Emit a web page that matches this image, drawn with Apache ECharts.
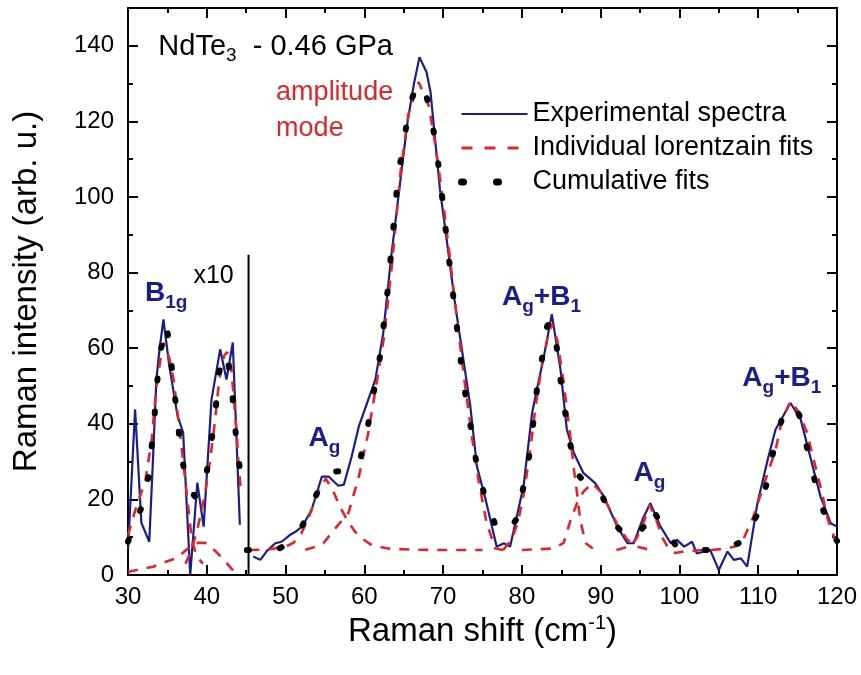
<!DOCTYPE html>
<html>
<head>
<meta charset="utf-8">
<script src="https://cdn.jsdelivr.net/npm/echarts@6/dist/echarts.min.js"></script>
<style>html,body{margin:0;padding:0;background:#fff}#c{width:861px;height:675px}</style>
</head>
<body>
<div id="c"></div>
<script>
// ---------- data ----------
const xTicks = [30, 40, 50, 60, 70, 80, 90, 100, 110, 120];
const yTicks = [0, 20, 40, 60, 80, 100, 120, 140];

// x10 region (left part)
const expLow = [[30.0,6.6],[30.9,43.8],[31.7,13.8],[32.7,8.8],[33.2,32],[33.6,51.7],[34.0,59.7],[34.5,67.6],[35.2,56],[35.9,47],[36.3,42],[37.0,37.7],[37.9,0],[38.8,24.4],[39.6,12.8],[40.6,46.4],[41.7,59.7],[42.5,51.7],[43.3,61.5],[44.2,13.3]];
const fitB1g = [[30.0,10.5],[30.9,17],[32.2,25],[33.0,35.7],[33.6,49.8],[34.3,59.5],[34.6,61.5],[35.3,56.9],[35.8,51.6],[36.2,44.5],[36.8,34],[37.45,21.6],[38.1,9.3],[38.7,5],[39.5,3]];
const fitLow2 = [[37.3,3],[38.1,7],[38.8,12],[39.8,21.7],[40.4,30],[41.0,40],[41.6,52],[42.2,58],[42.6,59],[43.1,55],[43.5,45],[43.8,37.6],[44.0,30],[44.3,23]];
const fitHump = [[30.0,0.8],[31.5,1.5],[33.2,2.2],[34.8,3.5],[36.2,4.5],[37.6,7],[38.6,8.5],[39.8,8.5],[41.0,6.5],[42.2,4],[43.2,1.5],[43.8,0.3]];
const cumLow = [[30.0,8.8],[30.8,13],[31.7,17.8],[32.6,26],[33.0,34],[33.4,43],[33.7,51],[34.2,60],[34.9,66.3],[35.4,58],[35.8,50],[36.3,41],[36.7,32.7],[37.5,23.6],[38.6,20.5],[39.8,24.4],[40.4,33],[41.0,41],[41.4,50],[41.8,58],[42.6,58],[43.2,49],[43.5,40.7],[44.0,31.8],[44.4,24]];

// main region
const expMain = [[45.9,4.9],[46.8,4],[47.7,6.5],[48.7,8.4],[49.5,8.8],[50.5,10.5],[51.3,11.5],[52.1,12.8],[53.3,17.2],[54.6,26],[55.5,26],[56.7,23.6],[57.4,23.9],[58.4,31.4],[59.3,39.3],[60.5,46.4],[61.4,51.7],[62.4,64],[63.4,84],[64.6,104.8],[65.5,120],[66.3,130],[67.0,137],[67.9,133],[68.4,127.8],[69.6,102],[70.5,88],[71.5,72],[72.5,58],[73.45,44.7],[74.3,28.7],[75.4,19.9],[76.8,7.5],[77.7,8.4],[78.5,7.5],[80.2,23.4],[81.3,42.9],[81.9,49],[82.8,57.9],[83.8,69],[84.9,54.4],[85.7,38.5],[86.6,32.3],[87.8,27],[89.3,24.3],[90.4,20.8],[92.1,12.8],[93.4,8.4],[94.2,8.4],[95.3,14.6],[96.3,19],[97.6,12.8],[98.9,8.4],[99.7,9.3],[100.6,7.5],[101.6,8.8],[102.2,5.7],[103.9,6.6],[105.0,1.3],[106.1,6.2],[106.9,4],[107.8,4.4],[108.6,2.2],[109.9,19],[111.2,30.5],[112.2,38.5],[114.1,45.5],[115.4,41.1],[116.7,30.5],[117.9,20.8],[119.2,13.7],[120.0,12.8]];
const fitAg55 = [[45.4,6.6],[48,6.8],[50,7.5],[51,8.5],[52,11],[53,15.5],[54,21.5],[55.1,25.5],[56,22.5],[56.8,18.5],[57.8,14.6],[58.8,11.5],[59.8,9.5],[61,7.8],[63,7],[66,6.7],[70,6.6],[75,6.6]];
const fitMain = [[52.5,6.7],[53.5,7.3],[54.8,8.4],[56.5,12.8],[58,16.5],[59.3,26],[60.5,37.6],[61.5,50],[62.5,63],[63.5,82],[64.6,106.6],[65.6,122],[66.9,130.4],[68.2,124],[69,114],[69.8,102],[70.8,85],[71.8,67],[72.8,50],[73.7,36],[74.5,25],[75.5,14],[76.6,7],[77.6,6.6]];
const fitAB84 = [[77.6,6.6],[78.7,9.3],[79.5,14],[80.2,21],[81,32],[81.7,44],[82.5,55],[83.3,63],[83.8,66.5],[84.5,62],[85.3,51],[86.2,35.8],[86.6,28],[87,21.7],[87.4,14.6],[88.1,8.4],[89,7]];
const fitSh89 = [[80,6.6],[84,7],[85.3,8.5],[86.2,14.6],[87,19],[87.8,22],[88.9,24.3],[90,22],[91.2,17.2],[92.3,12.5],[93.4,9.3],[94.6,7.5],[96,6.8]];
const fitAg96 = [[92,6.6],[93.5,7.5],[94.5,9.5],[95.3,13],[96.2,18.5],[97,15],[97.8,10],[98.6,7],[99.5,5.8],[101,6.4],[104,6.6]];
const fitAB114 = [[104,6.6],[106,7],[107.8,8],[109.4,15.5],[111.2,27],[112.2,33],[113,41],[114.1,46],[115.2,43],[116.2,37.6],[117.1,30],[117.9,23.4],[118.8,15],[119.6,10.2],[120,9]];
const cumMain = [[45.1,6.6],[47,6.7],[49.3,7.1],[50.8,9],[52.2,13.3],[53.9,21.2],[55,26],[56.3,27.4],[57.8,27.5],[59.3,29.2],[60.3,37.6],[61,46],[62,58],[63,76],[64.3,106],[65.1,115.4],[65.6,123.3],[66.7,130],[67.6,128.5],[68.4,122.9],[69,114.5],[69.6,105.5],[70.5,88],[71.5,70],[72.5,52],[73.7,36.7],[74.3,28.7],[75.4,19.9],[76.8,12.4],[78,11],[79.4,15],[80.2,23.4],[81,32.3],[81.5,41.1],[81.9,49],[82.6,57.9],[83.2,65.9],[83.8,67],[84.4,60.6],[84.9,51.7],[85.5,42.9],[86.2,34],[87,27],[88.3,23.4],[90.2,20.8],[92.1,12.8],[93.2,10],[94.2,9.7],[95.5,12.8],[96.5,18],[98,12],[99.5,8],[101,6.6],[105,6.6],[108,8.8],[110.1,16.8],[111.2,25.2],[112,33.6],[113.1,42],[114.1,45],[115.2,42.4],[116.2,33.6],[117.1,25.6],[118.3,16.8],[119.6,10.2],[120,9]];

// x10 separator
const dividerX = 45.3;
const dividerTop = 84.7;

const legendNames = ['Experimental spectra', 'Individual lorentzain fits', 'Cumulative fits'];

// ---------- styling ----------
const FONT = "'Liberation Sans', Arial, sans-serif";
const NAVY = '#1a1d8c';
const RED = '#e3242b';
const BLACK = '#000';

const chart = echarts.init(document.getElementById('c'), null, {renderer: 'canvas'});

const blueStyle = {color: NAVY, width: 2.2, type: 'solid'};
const redStyle = {color: RED, width: 2.6, type: [10, 9]};
const dotStyle = {color: BLACK, width: 6, type: [2, 31], cap: 'round'};

function ln(name, data, style, z) {
  return {type: 'line', name: name, data: data, symbol: 'none', showSymbol: false,
    lineStyle: style, itemStyle: {color: style.color}, z: z, silent: true, animation: false,
    emphasis: {disabled: true}, xAxisIndex: 0, yAxisIndex: 0};
}

const axisLineStyle = {color: BLACK, width: 2};
function xAx(pos, labels) {
  return {type: 'value', position: pos, min: xTicks[0], max: xTicks[xTicks.length - 1], interval: 10,
    axisLine: {show: true, onZero: false, lineStyle: axisLineStyle},
    axisTick: {show: true, inside: true, length: 10, lineStyle: {color: BLACK, width: 2}},
    minorTick: {show: true, splitNumber: 2, length: 5, lineStyle: {color: BLACK, width: 2}},
    splitLine: {show: false}, minorSplitLine: {show: false},
    axisLabel: labels ? {show: true, fontSize: 24, color: BLACK, fontFamily: FONT, margin: 10} : {show: false},
    name: labels ? 'Raman shift (cm{sup|-1})' : '', nameLocation: 'middle', nameGap: 35,
    nameTextStyle: {fontSize: 33, color: BLACK, fontFamily: FONT, lineHeight: 37, verticalAlign: 'top',
      rich: {sup: {fontSize: 20, fontFamily: FONT, color: BLACK, verticalAlign: 'top', lineHeight: 20}}}
  };
}
function yAx(pos, major, labels) {
  return {type: 'value', position: pos, min: 0, max: 150, interval: major ? 20 : 10,
    axisLine: {show: major, onZero: false, lineStyle: axisLineStyle},
    axisTick: {show: true, inside: true, length: major ? 10 : 5, lineStyle: {color: BLACK, width: 2}},
    splitLine: {show: false},
    axisLabel: labels ? {show: true, fontSize: 24, color: BLACK, fontFamily: FONT, margin: 14,
      formatter: function (v) { return yTicks.indexOf(v) >= 0 ? String(v) : ''; }} : {show: false},
    name: labels ? 'Raman intensity (arb. u.)' : '', nameLocation: 'middle', nameGap: 85,
    nameTextStyle: {fontSize: 33, color: BLACK, fontFamily: FONT}
  };
}

const option = {
  backgroundColor: '#fff',
  animation: false,
  grid: {left: 128, right: 24, top: 8, bottom: 100, containLabel: false},
  xAxis: [xAx('bottom', true), xAx('top', false)],
  yAxis: [yAx('left', true, true), yAx('left', false, false), yAx('right', true, false), yAx('right', false, false)],
  legend: {
    orient: 'vertical', left: 458, top: 100, padding: 0, itemWidth: 66, itemHeight: 14, itemGap: 6,
    selectedMode: false,
    textStyle: {fontSize: 27, lineHeight: 28, color: BLACK, fontFamily: FONT},
    itemStyle: {opacity: 0},
    data: [
      {name: legendNames[0], lineStyle: {width: 2.2}},
      {name: legendNames[1], lineStyle: {type: [11, 12], width: 3}},
      {name: legendNames[2], lineStyle: {type: [2, 33], width: 7, cap: 'round'}}
    ]
  },
  series: [
    ln(legendNames[0], expLow, blueStyle, 2),
    ln(legendNames[0], expMain, blueStyle, 2),
    ln(legendNames[1], fitB1g, redStyle, 3),
    ln(legendNames[1], fitLow2, redStyle, 3),
    ln(legendNames[1], fitHump, redStyle, 3),
    ln(legendNames[1], fitAg55, redStyle, 3),
    ln(legendNames[1], fitMain, redStyle, 3),
    ln(legendNames[1], fitAB84, redStyle, 3),
    ln(legendNames[1], fitSh89, redStyle, 3),
    ln(legendNames[1], fitAg96, redStyle, 3),
    ln(legendNames[1], fitAB114, redStyle, 3),
    ln(legendNames[2], cumLow, dotStyle, 4),
    ln(legendNames[2], cumMain, dotStyle, 4),
    ln('divider', [[dividerX, 0], [dividerX, dividerTop]], {color: BLACK, width: 2, type: 'solid'}, 5)
  ]
};
chart.setOption(option);

// ---------- text annotations (anchored in data coordinates) ----------
const peakRich = {
  m: {fontSize: 28, fontWeight: 'bold', fill: NAVY, fontFamily: FONT, lineHeight: 28, verticalAlign: 'top'},
  s: {fontSize: 19, fontWeight: 'bold', fill: NAVY, fontFamily: FONT, lineHeight: 19, verticalAlign: 'top', padding: [14, 0, 0, 0]}
};
const notes = [
  {at: [33.85, 143.6], text: '{n|NdTe}{s|3}{n|  - 0.46 GPa}', rich: {
      n: {fontSize: 29, fill: BLACK, fontFamily: FONT, lineHeight: 29, verticalAlign: 'top'},
      s: {fontSize: 19, fill: BLACK, fontFamily: FONT, lineHeight: 19, verticalAlign: 'top', padding: [14, 0, 0, 0]}}},
  {at: [48.8, 132.5], text: 'amplitude\nmode', plain: {fontSize: 27, fill: RED, fontFamily: FONT, lineHeight: 36}},
  {at: [38.3, 82.4], text: 'x10', plain: {fontSize: 25, fill: BLACK, fontFamily: FONT, lineHeight: 25}},
  {at: [32.16, 78.3], text: '{m|B}{s|1g}', rich: peakRich},
  {at: [52.91, 39.8], text: '{m|A}{s|g}', rich: peakRich},
  {at: [77.48, 77.3], text: '{m|A}{s|g}{m|+B}{s|1}', rich: peakRich},
  {at: [94.17, 30.7], text: '{m|A}{s|g}', rich: peakRich},
  {at: [107.98, 55.7], text: '{m|A}{s|g}{m|+B}{s|1}', rich: peakRich}
];
const graphic = notes.map(function (n) {
  const p = chart.convertToPixel({xAxisIndex: 0, yAxisIndex: 0}, n.at);
  const style = Object.assign({text: n.text, align: 'left', verticalAlign: 'top'}, n.plain || {});
  if (n.rich) style.rich = n.rich;
  return {type: 'text', x: p[0], y: p[1], silent: true, z: 10, style: style};
});
chart.setOption({graphic: graphic});
</script>
</body>
</html>
